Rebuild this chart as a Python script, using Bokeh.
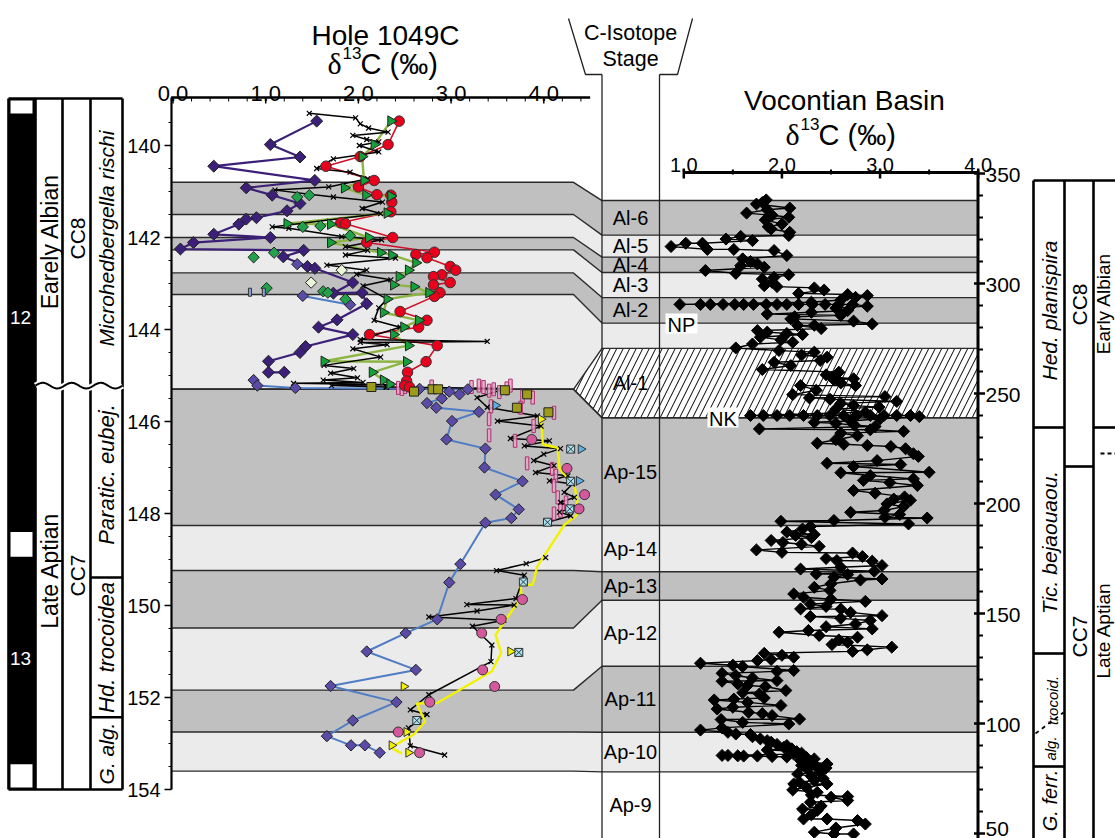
import numpy as np
from bokeh.plotting import figure
from bokeh.models import Range1d
from bokeh.core.properties import value
from bokeh.embed import file_html
from bokeh.resources import INLINE

# ===================== DATA =====================
# ---- Hole 1049C : (d13C permil, depth mbsf) ----
purple_up = [(1.55,139.47),(1.05,139.98),(1.37,140.25),(0.44,140.45),(1.53,140.76),(0.79,140.92),
             (1.07,141.08),(1.37,141.26),(1.23,141.42),(0.90,141.57),(0.79,141.60),(0.71,141.71),
             (0.44,141.93),(1.05,142.00),(0.22,142.11),(0.08,142.25),(1.41,142.28),(1.19,142.42),
             (1.45,142.63),(1.53,142.67),(1.94,142.98),(1.73,143.21),(2.04,143.20),(2.09,143.44),
             (1.77,143.79),(1.57,143.95),(1.94,144.11),(1.43,144.37),(1.37,144.50),(1.03,144.69),
             (1.03,144.93),(1.20,144.93)]
purple_lo = [(0.87,145.10),(0.91,145.22),(1.32,145.27),(2.66,145.29),(3.18,145.30),(3.09,145.41),
             (2.98,145.35),(2.90,145.50),(2.74,145.60),(2.84,145.70),(3.30,145.79),(3.01,145.99),
             (2.95,146.39),(3.37,146.59),(3.36,147.00),(3.77,147.30),(3.48,147.59),(3.73,147.91),
             (3.65,148.10),(3.37,148.20),(3.10,149.10),(2.98,149.50),(2.85,150.30),(2.51,150.60),
             (2.09,151.00),(2.62,151.40),(1.70,151.75),(2.41,152.10),(1.94,152.50),(1.66,152.84),
             (1.92,153.04),(2.07,153.04),(2.23,153.20)]
purple_mid = [(1.34,142.58),(1.40,143.27),(1.91,143.46)]
red_circ = [(2.44,139.47),(2.32,139.98),(2.02,140.24),(1.65,140.45),(2.17,140.76),(2.00,140.90),
            (2.20,141.07),(2.35,141.08),(2.36,141.23),(2.35,141.44),(1.81,141.68),(1.86,141.70),
            (2.37,142.00),(2.09,142.11),(2.82,142.32),(2.62,142.37),(2.74,142.44),(2.99,142.63),
            (3.05,142.71),(2.90,142.81),(2.81,142.85),(2.99,142.98),(2.81,143.03),(2.88,143.20),
            (2.82,143.28),(2.45,143.61),(2.74,143.80),(2.65,143.95),(2.12,144.11),(2.85,144.35),
            (2.73,144.70),(2.53,144.93),(2.52,145.12),(2.50,145.22),(2.55,145.25)]
green_tri = [(2.35,139.47),(2.17,139.98),(2.04,140.24),(2.06,140.76),(1.85,140.92),(2.08,141.08),
             (2.35,141.10),(2.31,141.47),(1.23,141.70),(1.70,141.71),(2.11,142.00),(1.70,142.11),
             (2.24,142.33),(2.36,142.38),(2.62,142.55),(2.54,142.71),(2.44,142.85),(2.38,143.03),
             (2.60,143.07),(2.76,143.20),(2.31,143.34),(2.27,143.63),(2.65,143.80),(2.49,143.95),
             (2.38,144.11),(2.54,144.35),(1.63,144.69),(2.52,144.70),(2.15,144.93),(2.27,145.10),
             (2.34,145.19)]
green_dia = [(1.34,141.12),(1.47,141.08),(1.40,141.77),(1.59,141.75),(1.91,141.96),(0.87,142.43),
             (1.09,142.33),(1.01,143.10),(1.62,143.17),(1.67,143.20),(1.86,143.34)]
pale_dia = [(1.82,142.71),(1.49,142.98)]
blue_bar = [(0.83,143.19),(0.98,143.19)]
black_up = [(1.47,139.30),(1.97,139.40),(2.02,139.53),(2.11,139.62),(2.32,139.71),(1.94,139.78),
            (2.09,139.87),(2.22,139.92),(2.01,140.00),(2.22,140.14),(1.73,140.29),(1.55,140.50),
            (1.91,140.58),(2.10,140.72),(1.68,140.90),(1.10,140.97),(1.73,141.12),(2.26,141.23),
            (2.04,141.37),(2.24,141.48),(1.07,141.77),(1.25,141.80),(1.82,141.98),(2.25,142.05),
            (1.86,142.20),(2.10,142.28),(1.86,142.38),(2.40,142.45),(1.66,142.60),(2.09,142.71),
            (1.98,142.80),(2.35,142.92),(2.05,143.05),(2.31,143.34),(2.22,143.53),(2.17,143.80),
            (2.45,143.95),(2.02,144.22),(3.39,144.26),(2.02,144.28),(2.31,144.33),(1.94,144.42),
            (2.24,144.60),(1.63,144.78),(1.95,144.85),(1.70,144.95),(1.99,145.05),(1.62,145.10),
            (2.05,145.15),(1.30,145.17),(2.35,145.20),(1.71,145.22),(2.30,145.25)]
black_lo = [(2.30,145.25),(3.60,145.28),(3.28,145.48),(3.39,145.69),(3.93,145.88),(3.50,145.99),
            (3.97,146.10),(3.64,146.37),(4.06,146.42),(3.79,146.53),(4.18,146.59),(4.00,146.71),
            (3.89,146.85),(4.11,146.96),(3.91,147.11),(4.26,147.18),(4.06,147.29),(4.31,147.36),
            (4.22,147.54),(4.33,147.65),(4.18,147.76),(4.31,147.87),(4.17,147.97),(4.29,148.05),
            (4.04,148.19)]
black_lo2 = [(4.02,148.96),(3.81,149.09),(3.49,149.24),(3.79,149.34),(3.70,149.85),(3.17,149.98),
             (3.68,149.99),(3.28,150.12),(2.76,150.25),(3.57,150.32),(3.23,150.45),(3.44,150.86),
             (3.43,151.22),(2.76,151.94),(2.56,152.27),(2.74,152.37),(2.54,152.66),(2.56,153.05),
             (2.93,153.25)]
olive_sq = [(2.14,145.25),(2.60,145.35),(2.80,145.30),(2.86,145.30),(3.58,145.32),(3.82,145.41),
            (3.71,145.70),(4.05,145.80)]
pink_circ = [(3.87,146.39),(4.25,147.02),(4.44,147.59),(4.38,147.90),(3.77,149.87),(3.54,150.30),
             (3.33,150.60),(3.34,151.40),(3.47,151.76),(2.77,152.10),(2.43,152.75),(2.66,153.20)]
pink_bar = [(2.43,145.27),(2.50,145.25),(2.47,145.29),(2.79,145.24),(3.22,145.25),(3.30,145.22),
            (3.35,145.25),(3.41,145.33),(3.46,145.30),(3.52,145.36),(3.60,145.28),(3.64,145.22),
            (3.77,145.46),(3.88,145.48),(3.43,145.67),(3.75,145.70),(4.11,145.81),(3.41,145.95),
            (3.41,146.30),(3.89,146.10),(3.69,146.42),(3.82,146.91),(4.09,147.03),(4.13,147.18),
            (4.11,147.40),(4.15,147.65),(4.18,147.94),(4.24,147.76),(4.11,148.00)]
yellow_ln = [(3.97,145.95),(3.99,146.50),(4.15,146.57),(4.17,147.03),(4.33,147.39),(4.36,147.71),
             (4.36,148.03),(4.22,148.25),(3.93,149.15),(3.88,149.55),(3.75,149.55),(3.76,149.80),
             (3.48,150.64),(3.54,151.03),(3.44,151.43),(2.85,152.12),(2.63,152.13),(2.72,152.52),
             (2.60,152.80),(2.35,153.09),(2.47,153.22)]
ltblue_tri = [(3.48,145.65),(4.40,146.60),(4.38,147.29)]
cyan_box = [(4.29,146.60),(4.29,147.30),(4.28,147.90),(4.04,148.19),(3.78,149.49),(3.73,151.02),
            (2.63,152.50)]
yellow_tri = [(3.97,145.95),(3.64,151.00),(2.49,151.76),(2.52,152.75),(2.36,153.04),(2.54,153.20)]

# ---- Vocontian Basin : (height m, d13C permil) ----
voc = [(338.0,1.84),(336.8,1.80),(336.1,1.74),(334.3,2.08),(333.5,1.85),(332.0,1.64),(331.0,1.90),
       (330.1,2.07),(328.9,1.83),(327.0,2.00),(325.8,1.86),(324.8,1.89),(323.3,2.08),(321.8,2.07),
       (321.4,1.58),(320.2,1.43),(319.5,1.70),(318.3,1.19),(318.3,1.02),(316.8,0.87),(315.5,1.24),
       (315.5,1.51),(315.0,1.92),(312.7,2.05),(311.2,1.60),(310.0,1.68),(308.9,1.75),(308.1,1.58),
       (307.4,1.82),(305.9,1.22),(304.6,1.53),(304.0,2.07),(302.8,1.92),(302.0,1.80),(300.5,1.90),
       (299.0,1.82),(298.6,1.95),(298.0,2.33),(297.0,2.43),(295.5,2.17),(295.0,2.67),(294.5,2.87),
       (293.7,2.75),(292.5,2.60),(291.5,2.30),
       (290.5,0.96),(290.5,1.17),(290.5,1.27),(290.5,1.40),(290.5,1.52),(290.5,1.61),(290.5,1.71),
       (290.5,1.84),(290.5,1.95),(290.5,2.05),(290.5,2.17),(290.5,2.31),(290.5,2.44),(290.5,2.58),
       (290.5,2.72),
       (289.7,2.87),(288.8,2.55),(287.7,2.67),(286.9,2.30),(286.1,1.85),(285.5,2.60),(284.9,2.13),
       (283.9,2.09),(282.9,2.73),(281.6,2.92),(281.0,2.33),(280.9,2.16),(279.5,2.40),(278.6,1.75),
       (277.9,1.85),(277.3,2.05),(276.8,2.21),(275.6,1.78),(274.4,1.99),(273.3,2.11),(272.5,1.70),
       (270.7,1.53),(269.5,1.97),(268.8,2.33),(267.5,2.20),(266.5,2.46),(265.0,2.39),(264.2,1.92),
       (262.7,2.09),(260.9,1.80),(259.7,2.58),(258.5,2.45),(257.5,2.51),(256.7,2.73),(256.2,2.53),
       (254.8,2.60),(253.6,2.75),(253.6,2.19),(251.5,2.35),(249.5,2.11),(248.6,3.05),(248.0,2.28),
       (247.4,2.49),(246.4,3.17),(245.5,2.60),(244.5,2.73),(243.8,2.99),(243.0,2.55),(241.5,2.85),
       (240.0,1.68),(240.0,1.81),(240.0,1.95),(240.0,2.08),(240.0,2.22),(240.0,2.36),(240.0,2.49),
       (240.0,2.63),(240.0,2.76),(240.0,2.90),(240.0,3.04),(240.0,3.17),(240.0,3.31),(239.5,3.40),
       (238.5,3.00),(237.5,2.70),(236.9,2.33),(236.4,2.55),(235.6,2.74),(235.0,2.95),(233.9,1.77),
       (233.5,2.90),(232.8,3.24),(232.0,2.60),(230.8,2.77),(229.0,2.55),(227.4,2.36),(226.9,2.63),
       (226.4,2.87),(225.9,3.11),(224.9,3.26),(222.6,3.34),(221.4,3.39),(219.5,2.97),(218.3,2.46),
       (217.7,3.21),(216.8,2.73),(214.2,3.50),(214.0,2.60),(212.7,2.90),(211.2,3.34),(210.5,2.83),
       (209.5,3.10),(208.2,3.38),(205.9,2.73),(204.7,2.95),(203.0,3.25),(202.0,3.14),(201.5,3.31),
       (199.8,3.07),(198.6,3.24),(196.8,3.04),(196.0,2.70),(195.0,3.20),(193.7,3.05),(193.4,3.48),
       (192.3,2.53),(191.9,1.99),(190.7,3.29),(189.5,2.29),(188.4,2.21),(187.0,2.05),(185.9,2.33),
       (185.5,2.14),(184.5,2.30),(183.2,1.89),(182.3,2.01),(181.5,2.20),(180.5,2.38),(178.9,1.74),
       (177.8,2.00),(177.5,2.72),(175.9,2.82),(175.0,2.45),(174.1,2.56),(173.8,2.92),(171.8,3.02),
       (171.0,2.60),(170.2,2.19),(169.2,2.94),(168.0,2.35),(167.7,2.67),(166.5,2.53),(165.7,3.02),
       (165.2,2.80),(163.5,2.50),(161.9,2.33),(160.5,2.49),(158.9,2.12),(157.4,2.22),(156.5,2.50),
       (155.5,2.85),(154.3,2.29),(153.2,2.45),(152.1,2.19),(152.0,2.60),(150.5,2.70),(149.0,3.02),
       (148.6,2.29),(147.8,2.60),(146.8,2.90),(145.2,2.75),(144.0,2.45),(143.0,2.92),(142.3,2.27),
       (141.5,1.97),(140.0,2.38),(139.2,2.77),(138.0,2.58),(136.9,2.67),(135.9,2.51),(134.7,3.12),
       (133.5,2.87),(132.8,2.72),(131.9,1.82),(131.0,2.00),(130.1,2.12),(129.1,1.89),(128.6,1.75),
       (127.4,1.17),(126.5,1.50),(125.9,1.60),(124.1,2.12),(123.7,1.95),(122.8,1.39),(121.8,1.53),
       (120.7,1.70),(119.5,1.95),(119.2,1.39),(118.0,1.55),(117.3,1.65),(116.8,1.83),(115.0,2.04),
       (114.0,1.60),(113.4,1.77),(111.6,1.82),(111.1,1.51),(110.7,1.31),(109.6,1.65),(108.2,1.99),
       (107.4,1.50),(106.6,1.34),(105.1,1.66),(104.5,1.80),(103.6,1.90),(102.0,2.18),(101.8,1.38),
       (100.5,1.60),(99.8,2.07),(98.0,1.39),(97.0,1.17),(96.0,1.45),(95.2,1.53),(95.0,1.68),
       (94.0,1.70),(93.0,1.78),(92.2,1.85),(91.5,1.89),(90.5,1.95),(90.0,2.05),(89.2,2.02),
       (88.5,2.10),(88.0,1.85),(87.2,2.15),(86.5,2.20),(86.1,2.12),(85.5,1.39),(85.5,1.45),
       (85.3,1.55),(85.2,1.61),(85.2,1.75),(85.0,1.90),(84.8,2.05),(84.5,2.25),(83.9,2.33),
       (83.2,2.19),(82.5,2.30),(81.6,2.46),(81.0,2.20),(80.5,2.35),(79.8,2.45),(79.3,2.26),
       (78.5,2.40),(77.8,2.39),(77.0,2.16),(76.0,2.30),(75.0,2.42),(74.1,2.33),(73.3,2.18),
       (72.5,2.12),(72.5,2.46),(71.0,2.25),(69.8,2.11),(68.7,2.36),(67.5,2.30),(66.8,2.67),
       (66.5,2.50),(65.0,2.67),(64.2,2.29),(62.5,2.40),(61.1,2.21),(60.5,2.36),(58.5,2.30),
       (56.6,2.22),(56.6,2.46),(55.9,2.77),(54.3,2.85),(52.5,2.55),(50.6,2.33),(49.8,2.53),
       (49.8,2.73)]

# ---- C-isotope stages: name, left top/bottom depth (1049C), right top/bottom height (Vocontian), fill
stage_name = ["Al-6", "Al-5", "Al-4", "Al-3", "Al-2", "", "Al-1", "Ap-15", "Ap-14", "Ap-13",
              "Ap-12", "Ap-11", "Ap-10", "Ap-9"]
stage_dtop = [140.80, 141.50, 142.00, 142.27, 142.77, 143.24, 145.30, 145.30, 148.26, 149.24,
              150.49, 151.84, 152.75, 153.60]
stage_dbot = [141.50, 142.00, 142.27, 142.77, 143.24, 145.30, 145.30, 148.26, 149.24, 150.49,
              151.84, 152.75, 153.60, 153.60]
stage_htop = [337.7, 322.0, 312.0, 305.0, 293.6, 282.0, 270.5, 239.0, 190.0, 169.0, 156.0,
              126.0, 96.0, 78.0]
stage_hbot = [322.0, 312.0, 305.0, 293.6, 282.0, 270.5, 239.0, 190.0, 169.0, 156.0, 126.0,
              96.0, 78.0, 47.7]
stage_fill = ["dark", "light", "dark", "light", "dark", "light", "hatch", "dark", "light", "dark",
              "light", "dark", "light", "none"]

# axes ticks
l_xticks = [0.0, 1.0, 2.0, 3.0, 4.0]
l_yticks = [140, 142, 144, 146, 148, 150, 152, 154]
r_xticks = [1.0, 2.0, 3.0, 4.0]
r_yticks = [50, 100, 150, 200, 250, 300, 350]

# ===================== GEOMETRY =====================
W, H = 1115, 838
LX0, LXS = 172.5, 92.7     # left d13C axis
LY0, LYS = 145.0, 46.0     # left depth axis (140 m at LY0)
RX0, RXS = 683.3, 98.13    # right d13C axis (1.0 at RX0)
RY0, RYS = 173.0, 2.2      # right height axis (350 m at RY0)

def lx(c): return LX0 + LXS * c
def ly(d): return LY0 + LYS * (d - 140.0)
def rx(c): return RX0 + RXS * (c - 1.0)
def ry(h): return RY0 + RYS * (350.0 - h)

p = figure(width=W, height=H, x_range=Range1d(0, W), y_range=Range1d(H, 0),
           output_backend="svg", toolbar_location=None, min_border=0,
           x_axis_location=None, y_axis_location=None)
p.outline_line_color = None
p.grid.visible = False
p.background_fill_color = "white"
p.border_fill_color = "white"
p.extra_x_ranges = {"xl": Range1d(-LX0 / LXS, (W - LX0) / LXS),
                    "xr": Range1d(1 - RX0 / RXS, 1 + (W - RX0) / RXS)}
p.extra_y_ranges = {"dl": Range1d(140 + (H - LY0) / LYS, 140 - LY0 / LYS),
                    "hr": Range1d(350 - (H - RY0) / RYS, 350 + RY0 / RYS)}

FONT = value("Liberation Sans")
SERIF = value("Liberation Serif")

def T(x, y, s, size, angle=0.0, style="normal", color="black", align="center", baseline="middle",
      font=FONT):
    p.text(x=[x], y=[y], text=[s], angle=angle, text_font=font, text_font_size=f"{size}px",
           text_font_style=style, text_color=color, text_align=align, text_baseline=baseline)

def delta_title(x0, yb):
    T(x0, yb, "\u03b4", 30, align="left", baseline="alphabetic", font=SERIF)
    T(x0 + 15, yb - 11, "13", 17, align="left", baseline="alphabetic")
    T(x0 + 33, yb, "C (\u2030)", 29, align="left", baseline="alphabetic")

DARK, LIGHT = "#c0c0c0", "#ebebeb"
XL0, XS, XC1, XR1 = lx(-0.01), 573.0, 601.5, 977.5

# ---- stage bands ----
for i, f in enumerate(stage_fill):
    if f == "none":
        continue
    xs = [XL0, XS, XC1, XR1, XR1, XC1, XS, XL0]
    ys = [ly(stage_dtop[i]), ly(stage_dtop[i]), ry(stage_htop[i]), ry(stage_htop[i]),
          ry(stage_hbot[i]), ry(stage_hbot[i]), ly(stage_dbot[i]), ly(stage_dbot[i])]
    if f == "hatch":
        p.patch(xs, ys, fill_color="white", line_color=None, hatch_pattern="/",
                hatch_color="black", hatch_weight=1.0, hatch_scale=13)
    else:
        p.patch(xs, ys, fill_color=DARK if f == "dark" else LIGHT, line_color=None)

# boundary lines
bxs, bys = [], []
for i in range(len(stage_name) - 1):
    d, h = stage_dtop[i], stage_htop[i]
    bxs.append([XL0, XS, XC1, XR1])
    bys.append([ly(d), ly(d), ry(h), ry(h)])
bxs.append([XL0, XS, XC1, XR1]); bys.append([ly(153.6), ly(153.6), ry(78.0), ry(78.0)])
bxs.append([XL0, XS, XC1, XR1]); bys.append([ly(145.3), ly(145.3), ry(239.0), ry(239.0)])
p.multi_line(bxs, bys, line_color="#2a2a2a", line_width=1.4)

# stage labels
for i, n in enumerate(stage_name):
    if n:
        hm = 0.5 * (stage_htop[i] + stage_hbot[i])
        T(630, ry(hm), n, 20)

# stage column frame + header
p.segment(x0=[XC1, 659], y0=[74, 74], x1=[XC1, 659], y1=[H, H], line_color="#222", line_width=1.3)
p.line(x=[568, 585, XC1], y=[18, 74, 74], line_color="#222", line_width=1.3)
p.line(x=[659, 677, 692], y=[74, 74, 18], line_color="#222", line_width=1.3)
T(630, 32, "C-Isotope", 21.5)
T(630, 58, "Stage", 21.5)

# NP / NK labels
p.quad(left=[665, 707], right=[697, 738], top=[313, 407], bottom=[333, 427],
       fill_color="white", line_color=None)
T(681, 324, "NP", 20)
T(722.5, 418, "NK", 20)

# ===================== LEFT AXES =====================
p.line(x=[lx(-0.02), lx(4.5)], y=[97, 97], line_color="black", line_width=2.5)
minor = [round(v, 1) for v in np.arange(0.2, 4.5, 0.2) if abs(v - round(v)) > 1e-6]
p.segment(x0=[lx(v) for v in minor], y0=[97] * len(minor), x1=[lx(v) for v in minor],
          y1=[101] * len(minor), line_color="black", line_width=1)
p.segment(x0=[lx(v) for v in l_xticks], y0=[97] * 5, x1=[lx(v) for v in l_xticks], y1=[103] * 5,
          line_color="black", line_width=1.5)
for v in l_xticks:
    T(lx(v), 93, f"{v:.1f}", 22, baseline="alphabetic")

p.line(x=[171, 171], y=[97, ly(154)], line_color="black", line_width=2.2)
yminor = [v for v in np.arange(139.5, 154.01, 0.5) if v not in l_yticks]
p.segment(x0=[168] * len(yminor), y0=[ly(v) for v in yminor], x1=[171] * len(yminor),
          y1=[ly(v) for v in yminor], line_color="black", line_width=1)
p.segment(x0=[164] * len(l_yticks), y0=[ly(v) for v in l_yticks], x1=[171] * len(l_yticks),
          y1=[ly(v) for v in l_yticks], line_color="black", line_width=1.5)
for v in l_yticks:
    T(160, ly(v), str(v), 20, align="right")

# ===================== RIGHT AXES =====================
p.line(x=[rx(1.0), rx(4.0)], y=[172, 172], line_color="black", line_width=3)
p.segment(x0=[rx(v) for v in r_xticks], y0=[168] * 4, x1=[rx(v) for v in r_xticks], y1=[178] * 4,
          line_color="black", line_width=2.5)
rmin = [1.5, 2.5, 3.5]
p.segment(x0=[rx(v) for v in rmin], y0=[169] * 3, x1=[rx(v) for v in rmin], y1=[174] * 3,
          line_color="black", line_width=2)
for v in r_xticks:
    T(rx(v), 164, f"{v:.1f}", 20, baseline="alphabetic")

p.line(x=[XR1, XR1], y=[172, H], line_color="black", line_width=3)
hmin = [v for v in range(50, 351, 10) if v % 50]
p.segment(x0=[XR1] * len(hmin), y0=[ry(v) for v in hmin], x1=[XR1 + 5] * len(hmin),
          y1=[ry(v) for v in hmin], line_color="black", line_width=2)
p.segment(x0=[XR1 - 4] * 7, y0=[ry(v) for v in r_yticks], x1=[XR1 + 7] * 7,
          y1=[ry(v) for v in r_yticks], line_color="black", line_width=2.5)
for v in r_yticks:
    T(985, min(ry(v) + 1, H - 10), str(v), 21, align="left")

# titles
T(385, 35, "Hole 1049C", 28, baseline="alphabetic")
delta_title(327, 63)
T(844, 100, "Vocontian Basin", 28, baseline="alphabetic")
delta_title(785, 134)

# ===================== LEFT STRAT COLUMNS =====================
top_y, bot_y = ly(139.0) - 1, ly(154.0)
p.quad(left=[8], right=[35], top=[top_y], bottom=[bot_y], fill_color="black", line_color=None)
p.quad(left=[10, 10, 10], right=[32, 32, 32], top=[100, ly(148.40), ly(153.45)],
       bottom=[113, ly(148.94), bot_y - 2], fill_color="white", line_color=None)
colx = [8, 35, 62, 90, 122]
p.segment(x0=colx, y0=[top_y] * 5, x1=colx, y1=[bot_y] * 5, line_color="black", line_width=2.6)
p.segment(x0=[8, 8], y0=[top_y, bot_y], x1=[122, 122], y1=[top_y, bot_y], line_color="black",
          line_width=2.6)
p.segment(x0=[90, 90], y0=[ly(149.39), ly(152.43)], x1=[122, 122], y1=[ly(149.39), ly(152.43)],
          line_color="black", line_width=2.6)
wx = np.linspace(35, 122, 120)
wy = ly(145.22) + 2.8 * np.sin((wx - 35) / 29.0 * 2 * np.pi + np.pi)
p.line(wx, wy, line_color="white", line_width=6)
p.line(wx, wy, line_color="black", line_width=2)
T(20, 317, "12", 19, color="white")
T(20, 658, "13", 19, color="white")
R = np.pi / 2
T(49, 241, "Earely Albian", 23, angle=R)
T(49, 570, "Late Aptian", 23, angle=R)
T(77, 238, "CC8", 21, angle=R)
T(77, 575, "CC7", 21, angle=R)
T(106, 238, "Microhedbergella rischi", 21, angle=R, style="italic")
T(106, 474, "Paratic. eubej.", 22, angle=R, style="italic")
T(106, 647, "Hd. trocoidea", 22, angle=R, style="italic")
T(106, 753, "G. alg.", 21, angle=R, style="italic")

# ===================== RIGHT STRAT COLUMNS =====================
rcx = [1033, 1064, 1093]
p.segment(x0=rcx, y0=[180] * 3, x1=rcx, y1=[H] * 3, line_color="black", line_width=2.6)
p.segment(x0=[1033, 1033, 1033, 1033, 1064, 1093], y0=[180, 427, 653, 766, 466, 427],
          x1=[1115, 1064, 1064, 1064, 1093, 1115], y1=[180, 427, 653, 766, 466, 427],
          line_color="black", line_width=2.6)
p.line(x=[1100, 1115], y=[453, 453], line_color="black", line_width=2, line_dash="4 3")
p.line(x=[1035, 1063], y=[733, 712], line_color="black", line_width=1.8, line_dash="4 4")
T(1049, 310, "Hed. planispira", 21, angle=R, style="italic")
T(1049, 542, "Tic. bejaouaou.", 21, angle=R, style="italic")
T(1052, 700, "trocoid.", 15, angle=R, style="italic")
T(1050, 748, "alg.", 15, angle=R, style="italic")
T(1049, 800, "G. ferr.", 20, angle=R, style="italic")
T(1079, 304, "CC8", 21, angle=R)
T(1079, 636, "CC7", 21, angle=R)
T(1103, 303, "Early Albian", 19, angle=R)
T(1103, 630, "Late Aptian", 19, angle=R)

# ===================== DATA SERIES =====================
L = dict(x_range_name="xl", y_range_name="dl")
Rr = dict(x_range_name="xr", y_range_name="hr")

def xy(lst):
    return [a for a, b in lst], [b for a, b in lst]

# Vocontian
vh = [a for a, b in voc]; vc = [b for a, b in voc]
p.line(vc, vh, line_color="black", line_width=1.4, **Rr)
p.scatter(vc, vh, marker="square", angle=np.pi / 4, size=8.5, fill_color="black",
          line_color="black", **Rr)

# 1049C lines
c, d = xy(purple_up); p.line(c, d, line_color="#3b1f78", line_width=2.2, **L)
c, d = xy(purple_lo); p.line(c, d, line_color="#4f7cc4", line_width=2, **L)
c, d = xy(purple_mid[1:]); p.line(c, d, line_color="#4f7cc4", line_width=2, **L)
c, d = xy(red_circ); p.line(c, d, line_color="#d0102a", line_width=1.6, **L)
c, d = xy(green_tri); p.line(c, d, line_color="#8db543", line_width=2.4, **L)
c, d = xy(black_up); p.line(c, d, line_color="black", line_width=1.5, **L)
c, d = xy(black_lo); p.line(c, d, line_color="black", line_width=1.5, **L)
c, d = xy(black_lo2); p.line(c, d, line_color="black", line_width=1.5, **L)
c, d = xy(yellow_ln); p.line(c, d, line_color="#f2f200", line_width=2.4, **L)

# markers
c, d = xy(pink_bar)
p.rect(c, d, width=3.5, height=13, width_units="screen", height_units="screen",
       fill_color="#e6a4c8", fill_alpha=0.8, line_color="#b0306e", line_width=1, **L)
c, d = xy(black_up); p.scatter(c, d, marker="x", size=7, line_color="black", line_width=1.2, **L)
c, d = xy(black_lo); p.scatter(c, d, marker="x", size=7, line_color="black", line_width=1.2, **L)
c, d = xy(black_lo2); p.scatter(c, d, marker="x", size=7, line_color="black", line_width=1.2, **L)
c, d = xy(purple_up); p.scatter(c, d, marker="square", angle=np.pi / 4, size=8.5,
                                fill_color="#3b1f78", line_color="#222", **L)
c, d = xy(purple_lo); p.scatter(c, d, marker="square", angle=np.pi / 4, size=8,
                                fill_color="#5b4ba6", line_color="#222", **L)
c, d = xy(purple_mid); p.scatter(c, d, marker="square", angle=np.pi / 4, size=8,
                                 fill_color="#5b4ba6", line_color="#222", **L)
c, d = xy(green_dia); p.scatter(c, d, marker="square", angle=np.pi / 4, size=8,
                                fill_color="#23a04c", line_color="#222", **L)
c, d = xy(pale_dia); p.scatter(c, d, marker="square", angle=np.pi / 4, size=8,
                               fill_color="#eaf5d8", line_color="#222", **L)
c, d = xy(blue_bar)
p.rect(c, d, width=3, height=8, width_units="screen", height_units="screen",
       fill_color="#8fa0e0", line_color="#333", **L)
c, d = xy(red_circ); p.scatter(c, d, marker="circle", size=10.5, fill_color="#e8001c",
                               line_color="#333", **L)
c, d = xy(green_tri); p.scatter(c, d, marker="triangle", angle=-np.pi / 2, size=10.5,
                                fill_color="#16a03a", line_color="#222", **L)
c, d = xy(olive_sq); p.scatter(c, d, marker="square", size=9, fill_color="#9c9c1a",
                               line_color="#222", **L)
c, d = xy(pink_circ); p.scatter(c, d, marker="circle", size=10, fill_color="#d4589c",
                                line_color="#333", **L)
c, d = xy(ltblue_tri); p.scatter(c, d, marker="triangle", angle=-np.pi / 2, size=9,
                                 fill_color="#5ab0e8", line_color="#333", **L)
c, d = xy(cyan_box); p.scatter(c, d, marker="square_x", size=8, fill_color="#a8e4f4",
                               line_color="#333", **L)
c, d = xy(yellow_tri); p.scatter(c, d, marker="triangle", angle=-np.pi / 2, size=9,
                                 fill_color="#f2f200", line_color="#333", **L)

open("out.html", "w").write(file_html(p, INLINE))
